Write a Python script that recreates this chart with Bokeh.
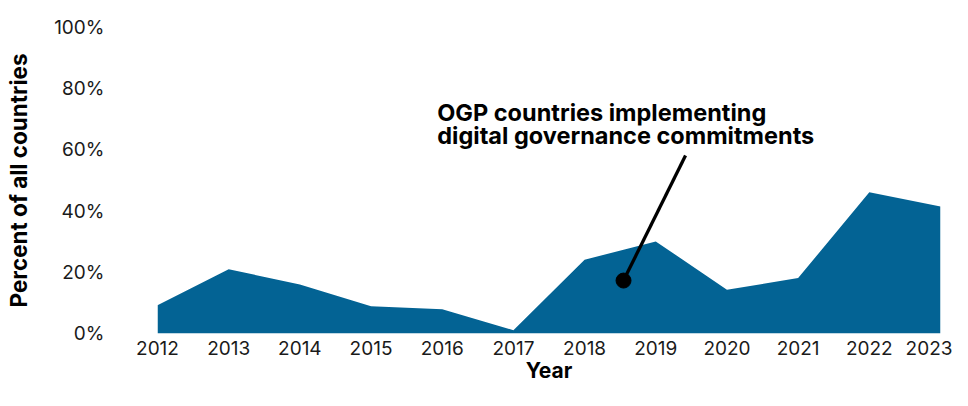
from bokeh.plotting import figure
from bokeh.models import Range1d, FixedTicker, Label
from bokeh.embed import file_html
from bokeh.resources import INLINE

years = [2012, 2013, 2014, 2015, 2016, 2017, 2018, 2019, 2020, 2021, 2022, 2023]
percent = [9.2, 21.0, 16.0, 8.9, 7.9, 1.1, 24.1, 30.1, 14.3, 18.1, 46.2, 41.5]
y_ticks = [0, 20, 40, 60, 80, 100]
y_tick_labels = ["0%", "20%", "40%", "60%", "80%", "100%"]
annotation_lines = ["OGP countries implementing", "digital governance commitments"]
x_title = "Year"
y_title = "Percent of all countries"

BLUE = "#036394"
FONT = "Inter"
TXT = "#1a1a1a"

p = figure(width=952, height=390, x_range=Range1d(2012, 2023), y_range=Range1d(0, 100),
           output_backend="svg", toolbar_location=None,
           min_border_left=157, min_border_right=12, min_border_top=27, min_border_bottom=57)

p.varea(x=years, y1=0, y2=percent, fill_color=BLUE, fill_alpha=1.0)

p.outline_line_color = None
p.grid.visible = False
p.background_fill_color = "white"
p.border_fill_color = "white"

for ax in (p.xaxis[0], p.yaxis[0]):
    ax.axis_line_color = None
    ax.major_tick_line_color = None
    ax.minor_tick_line_color = None
    ax.major_tick_out = 0
    ax.major_tick_in = 0
    ax.major_label_text_font = FONT
    ax.major_label_text_font_size = "19px"
    ax.major_label_text_color = TXT
    ax.axis_label_text_font = FONT
    ax.axis_label_text_font_style = "bold"
    ax.axis_label_text_color = "#000000"

p.xaxis[0].ticker = FixedTicker(ticks=years)
p.xaxis[0].major_label_standoff = 7
p.xaxis[0].axis_label = x_title
p.xaxis[0].axis_label_text_font_size = "21px"
p.xaxis[0].axis_label_standoff = 0

p.yaxis[0].ticker = FixedTicker(ticks=y_ticks)
p.yaxis[0].major_label_overrides = {t: l for t, l in zip(y_ticks, y_tick_labels)}
p.yaxis[0].major_label_standoff = 53
p.yaxis[0].axis_label = y_title
p.yaxis[0].axis_label_text_font_size = "22.5px"
p.yaxis[0].axis_label_standoff = 19

# leader line and dot
p.line(x=[2018.547, 2019.418], y=[17.3, 58.2], line_color="black", line_width=3.3)
p.scatter(x=[2018.547], y=[17.3], size=15, fill_color="black", line_color="black")

for i, txt in enumerate(annotation_lines):
    p.add_layout(Label(x=2015.93, y=72.3 - i * 7.6, text=txt, text_font=FONT,
                       text_font_style="bold", text_font_size="23.5px", text_color="#000000",
                       text_baseline="alphabetic"))

open("out.html", "w").write(file_html(p, INLINE))
